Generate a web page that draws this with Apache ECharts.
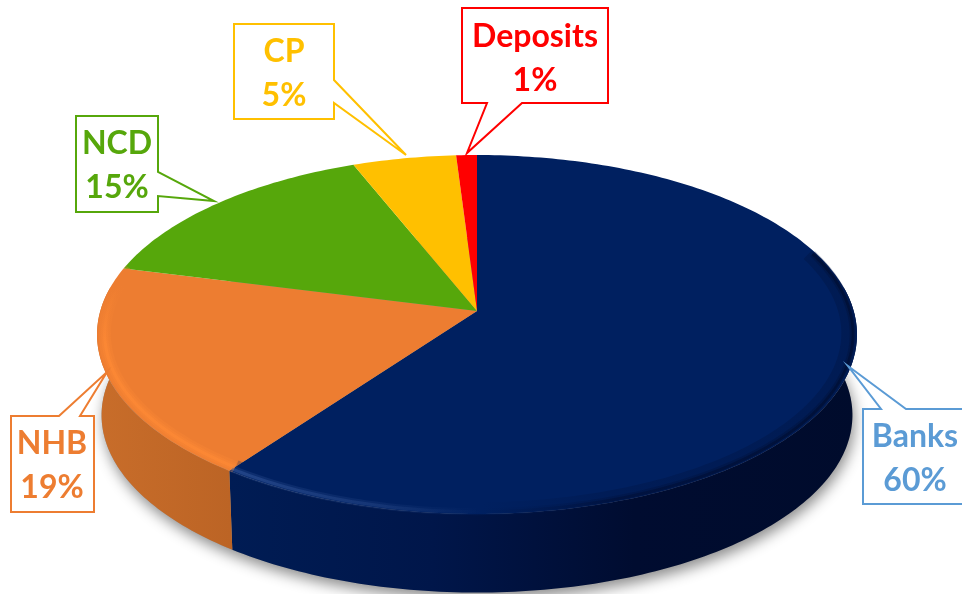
<!DOCTYPE html>
<html>
<head>
<meta charset="utf-8">
<title>Funding mix</title>
<script src="https://cdn.jsdelivr.net/npm/echarts@6/dist/echarts.min.js"></script>
<style>
  html, body { margin: 0; padding: 0; background: #fff; }
  #chart { width: 962px; height: 594px; }
</style>
</head>
<body>
<div id="chart"></div>
<script>
// Chart data
const categories = ['Banks', 'NHB', 'NCD', 'CP', 'Deposits'];
const shares = [60, 19, 15, 5, 1];

// Colours
const sliceColors = ['#002060', '#ED7D31', '#56A70B', '#FFC000', '#FF0000'];
const labelColors = ['#5B9BD5', '#ED7D31', '#56A70B', '#FFC000', '#FF0000'];

// Callout outlines, clockwise from the box corner, and the centre of their text
const calloutOutlines = [
    [[863, 409], [881, 409], [848, 366], [906, 409], [968, 409], [968, 504], [863, 504]],
    [[11, 416], [59, 416], [107, 372], [80, 416], [94, 416], [94, 512], [11, 512]],
    [[76, 116], [158, 116], [158, 172], [214, 201], [158, 196], [158, 212], [76, 212]],
    [[234, 24], [334, 24], [334, 80], [406, 155], [334, 103], [334, 119], [234, 119]],
    [[462, 8], [608, 8], [608, 103], [522, 103], [467, 153], [487, 103], [462, 103]]
];
const calloutCentres = [[915, 459], [52, 466], [117, 166], [284, 74], [535, 59]];

// The pie is a tilted disc seen in perspective
const CX = 477, CY = 311;
const RX = 376.7, RY = 176.4, PERSPECTIVE = 0.131;
const WALL_DEPTH = 81, WALL_SCALE = 0.988;
// Clockwise angles from the top, in degrees, between which the wall can be seen
const WALL_FROM = 82, WALL_TO = 278;

const total = shares.reduce((a, b) => a + b, 0);

// Unit disc position (angle clockwise from the top) to a page position
function project(deg, r) {
    const t = deg * Math.PI / 180;
    const x = r * Math.sin(t);
    const y = -r * Math.cos(t);
    const d = 1 - PERSPECTIVE * y;
    return [CX + RX * x / d, CY + RY * y / d];
}

function bottomPoint(deg) {
    const p = project(deg, 1);
    return [CX + (p[0] - CX) * WALL_SCALE, CY + (p[1] - CY) * WALL_SCALE + WALL_DEPTH];
}

function arc(from, to, fn) {
    const pts = [];
    const steps = Math.max(2, Math.ceil(Math.abs(to - from)));
    for (let i = 0; i <= steps; i++) {
        pts.push(fn(from + (to - from) * i / steps));
    }
    return pts;
}

function horizontal(stops) {
    return new echarts.graphic.LinearGradient(0, 0, 962, 0, stops, true);
}

const wallFills = [
    horizontal([
        { offset: 0.24, color: '#001C54' },
        { offset: 0.45, color: '#00164A' },
        { offset: 0.66, color: '#000C30' },
        { offset: 1, color: '#000B2A' }
    ]),
    horizontal([
        { offset: 0.10, color: '#C86D2A' },
        { offset: 0.24, color: '#BC6425' }
    ])
];
const rimColors = [
    horizontal([
        { offset: 0.24, color: '#2F5296' },
        { offset: 0.40, color: '#1C3C7C' },
        { offset: 0.50, color: '#002060' },
        { offset: 0.64, color: '#000F38' },
        { offset: 1, color: '#000B2A' }
    ]),
    new echarts.graphic.LinearGradient(0, 285, 0, 345, [
        { offset: 0, color: '#ED7D31' },
        { offset: 1, color: '#FF8A35' }
    ], true)
];
const rimHalo = [
    horizontal([
        { offset: 0.50, color: '#002060' },
        { offset: 0.64, color: '#000F38' },
        { offset: 1, color: '#000B2A' }
    ]),
    rimColors[1]
];

function renderSlice(params, api) {
    const i = params.dataIndex;
    let before = 0;
    for (let k = 0; k < i; k++) before += shares[k];
    const a0 = before / total * 360;
    const a1 = (before + api.value(0)) / total * 360;
    const children = [];

    if (i === 0) {
        // Soft shadow under the whole disc
        children.push({
            type: 'polygon',
            z2: 0,
            shape: { points: arc(0, 360, bottomPoint) },
            style: {
                fill: '#999',
                shadowBlur: 14,
                shadowColor: 'rgba(0,0,0,0.45)',
                shadowOffsetY: 6,
                shadowOffsetX: 2
            }
        });
    }

    const w0 = Math.max(a0, WALL_FROM), w1 = Math.min(a1, WALL_TO);
    if (w0 < w1) {
        const top = arc(w0, w1, d => project(d, 1));
        const bottom = arc(w1, w0, bottomPoint);
        children.push({
            type: 'polygon',
            z2: 1,
            shape: { points: top.concat(bottom) },
            style: { fill: wallFills[i] }
        });
    }

    children.push({
        type: 'polygon',
        z2: 2,
        shape: { points: [[CX, CY]].concat(arc(a0, a1, d => project(d, 1))) },
        style: { fill: sliceColors[i] }
    });

    // Bevel along the rim, only the two large front slices show it
    if (i < 2) {
        const r = i === 0 ? 0.99 : 0.98;
        const rim = i === 0 ? arc(70, a1, d => project(d, r)) : arc(a0, a1, d => project(d, r));
        const wide = i === 0 ? arc(70, a1, d => project(d, 0.975)) : rim;
        children.push({
            type: 'polyline',
            z2: 3,
            shape: { points: wide },
            style: { fill: 'none', stroke: rimHalo[i], lineWidth: 12, opacity: 0.25 }
        }, {
            type: 'polyline',
            z2: 3,
            shape: { points: rim },
            style: { fill: 'none', stroke: rimColors[i], lineWidth: 7, opacity: 0.3 }
        }, {
            type: 'polyline',
            z2: 3,
            shape: { points: rim },
            style: { fill: 'none', stroke: rimColors[i], lineWidth: 3, opacity: 0.6 }
        });
    }

    // Callout
    children.push({
        type: 'polygon',
        z2: 4,
        shape: { points: calloutOutlines[i] },
        style: { fill: '#fff', stroke: labelColors[i], lineWidth: 2, lineJoin: 'miter' }
    }, {
        type: 'text',
        z2: 5,
        style: {
            x: calloutCentres[i][0],
            y: calloutCentres[i][1],
            text: categories[i] + '\n' + api.value(0) + '%',
            fill: labelColors[i],
            fontFamily: 'Lato',
            fontWeight: 700,
            fontSize: 32,
            lineHeight: 44,
            align: 'center',
            verticalAlign: 'middle'
        }
    });

    return { type: 'group', children: children };
}

var myChart = echarts.init(document.getElementById('chart'));
myChart.setOption({
    animation: false,
    backgroundColor: '#fff',
    series: [
        {
            type: 'custom',
            coordinateSystem: 'none',
            renderItem: renderSlice,
            data: shares.map((v, i) => ({ name: categories[i], value: [v] }))
        }
    ]
});
</script>
</body>
</html>
